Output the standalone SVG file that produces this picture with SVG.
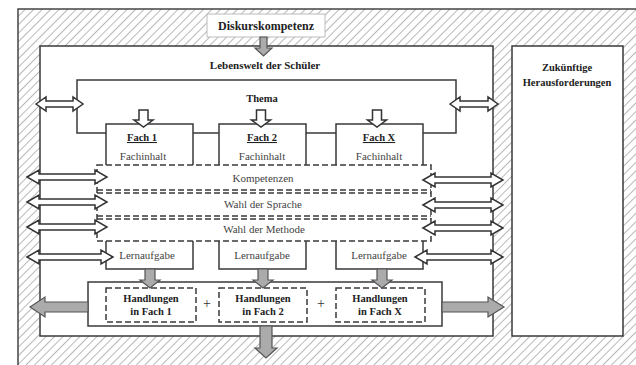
<svg xmlns="http://www.w3.org/2000/svg" width="636" height="365" viewBox="0 0 636 365">
<defs>
<pattern id="hatch" patternUnits="userSpaceOnUse" width="6" height="6" patternTransform="rotate(45)">
<rect width="6" height="6" fill="#fff"/>
<line x1="0" y1="0" x2="0" y2="6" stroke="#9a9a9a" stroke-width="1.4"/>
</pattern>
<style>
.box{fill:#fff;stroke:#3a3a3a;stroke-width:1.5}
.line{fill:none;stroke:#3a3a3a;stroke-width:1.5}
.dash{fill:none;stroke:#3a3a3a;stroke-width:1.5;stroke-dasharray:6,3}
.harrow{fill:#fff;stroke:#333;stroke-width:1.5;stroke-linejoin:miter}
.garrow{fill:#ababab;stroke:#555;stroke-width:1.2}
.b{font-family:"Liberation Serif",serif;font-weight:bold;fill:#222;text-anchor:middle}
.r{font-family:"Liberation Serif",serif;fill:#444;text-anchor:middle;font-size:11px}
</style>
</defs>
<g id="frame">
<rect x="18" y="9" width="630" height="370" fill="url(#hatch)" stroke="#444" stroke-width="1.5"/>
</g>
<g id="diskurs">
<rect x="207" y="14" width="118" height="23" fill="#fff" stroke="#bbb" stroke-width="1"/>
<text class="b" x="266" y="30" font-size="12">Diskurskompetenz</text>
</g>
<g id="lebenswelt">
<rect class="box" x="40" y="46" width="453" height="290"/>
<text class="b" x="265" y="69" font-size="11">Lebenswelt der Schüler</text>
</g>
<g id="zukunft">
<rect class="box" x="512" y="46" width="111" height="290"/>
<text class="b" x="567" y="71" font-size="10.5">Zukünftige</text>
<text class="b" x="567" y="86" font-size="10.5">Herausforderungen</text>
</g>
<g id="thema">
<path class="line" d="M106 133 H77 V80 H456 V133 H423 M193 133 H219 M306 133 H336"/>
<text class="b" x="262" y="102" font-size="10.5">Thema</text>
</g>
<g id="fach1">
<path class="line" d="M106 165 V124 H193 V165"/>
<text class="b" x="142" y="141" font-size="10.5" text-decoration="underline">Fach 1</text>
<text class="r" x="143" y="160">Fachinhalt</text>
</g>
<g id="fach2">
<path class="line" d="M219 165 V124 H306 V165"/>
<text class="b" x="262" y="141" font-size="10.5" text-decoration="underline">Fach 2</text>
<text class="r" x="262" y="160">Fachinhalt</text>
</g>
<g id="fachx">
<path class="line" d="M336 165 V124 H423 V165"/>
<text class="b" x="379" y="141" font-size="10.5" text-decoration="underline">Fach X</text>
<text class="r" x="379" y="160">Fachinhalt</text>
</g>
<g id="band">
<path class="dash" d="M97 165 H431 V241 H97 Z"/>
<path class="dash" d="M97 190 H431 M97 193 H431 M97 216 H431 M97 219 H431"/>
<text class="r" x="263" y="182">Kompetenzen</text>
<text class="r" x="263" y="208">Wahl der Sprache</text>
<text class="r" x="264" y="233">Wahl der Methode</text>
</g>
<g id="lern1">
<path class="line" d="M106 241 V269 H193 V241"/>
<text class="r" x="147" y="259">Lernaufgabe</text>
</g>
<g id="lern2">
<path class="line" d="M219 241 V269 H306 V241"/>
<text class="r" x="262" y="259">Lernaufgabe</text>
</g>
<g id="lernx">
<path class="line" d="M336 241 V269 H423 V241"/>
<text class="r" x="379" y="259">Lernaufgabe</text>
</g>
<g id="handlungen">
<rect class="box" x="88" y="282" width="354" height="44"/>
<text x="207" y="308" font-family="Liberation Serif,serif" font-size="14" fill="#333" text-anchor="middle">+</text>
<text x="321" y="308" font-family="Liberation Serif,serif" font-size="14" fill="#333" text-anchor="middle">+</text>
</g>
<g id="hand1">
<rect class="dash" x="106" y="288" width="90" height="34"/>
<text class="b" x="151" y="302" font-size="10.5">Handlungen</text>
<text class="b" x="151" y="315" font-size="10.5">in Fach 1</text>
</g>
<g id="hand2">
<rect class="dash" x="219" y="288" width="88" height="34"/>
<text class="b" x="263" y="302" font-size="10.5">Handlungen</text>
<text class="b" x="263" y="315" font-size="10.5">in Fach 2</text>
</g>
<g id="handx">
<rect class="dash" x="336" y="288" width="89" height="34"/>
<text class="b" x="380" y="302" font-size="10.5">Handlungen</text>
<text class="b" x="380" y="315" font-size="10.5">in Fach X</text>
</g>
<g id="connectors">
<path class="garrow" d="M260 37 H267 V48 H272 L263.5 56 L255 48 H260 Z"/>
<path class="harrow" d="M139 110 H148 V120 H153 L143.5 127 L134 120 H139 Z"/>
<path class="harrow" d="M256.5 110 H265.5 V120 H270.5 L261 127 L251.5 120 H256.5 Z"/>
<path class="harrow" d="M372.5 110 H381.5 V120 H386.5 L377 127 L367.5 120 H372.5 Z"/>
<path class="harrow" d="M36 104 L46 97 V101 H73 V97 L83 104 L73 111 V107 H46 V111 Z"/>
<path class="harrow" d="M450 104 L460 97 V101 H488 V97 L498 104 L488 111 V107 H460 V111 Z"/>
<path class="harrow" d="M27 177 L39 170 V174 H95 V170 L107 177 L95 184 V180 H39 V184 Z"/>
<path class="harrow" d="M27 202 L39 195 V199 H95 V195 L107 202 L95 209 V205 H39 V209 Z"/>
<path class="harrow" d="M27 227 L39 220 V224 H95 V220 L107 227 L95 234 V230 H39 V234 Z"/>
<path class="harrow" d="M27 257 L39 250 V254 H101 V250 L113 257 L101 264 V260 H39 V264 Z"/>
<path class="harrow" d="M423 180 L435 173 V177 H491 V173 L503 180 L491 187 V183 H435 V187 Z"/>
<path class="harrow" d="M423 205 L435 198 V202 H491 V198 L503 205 L491 212 V208 H435 V212 Z"/>
<path class="harrow" d="M423 228 L435 221 V225 H491 V221 L503 228 L491 235 V231 H435 V235 Z"/>
<path class="harrow" d="M415 257 L427 250 V254 H491 V250 L503 257 L491 264 V260 H427 V264 Z"/>
<path class="garrow" d="M145 269 H155 V280 H160 L150 288 L140 280 H145 Z"/>
<path class="garrow" d="M258 269 H268 V280 H273 L263 288 L253 280 H258 Z"/>
<path class="garrow" d="M377 269 H387 V280 H392 L382 288 L372 280 H377 Z"/>
<path class="garrow" d="M88 302 H45 V297 L30 307 L45 317 V312 H88 Z"/>
<path class="garrow" d="M442 302 H488 V297 L504 307 L488 317 V312 H442 Z"/>
<path class="garrow" d="M260 326 H272 V348 H277 L266 358 L255 348 H260 Z"/>
</g>
</svg>
